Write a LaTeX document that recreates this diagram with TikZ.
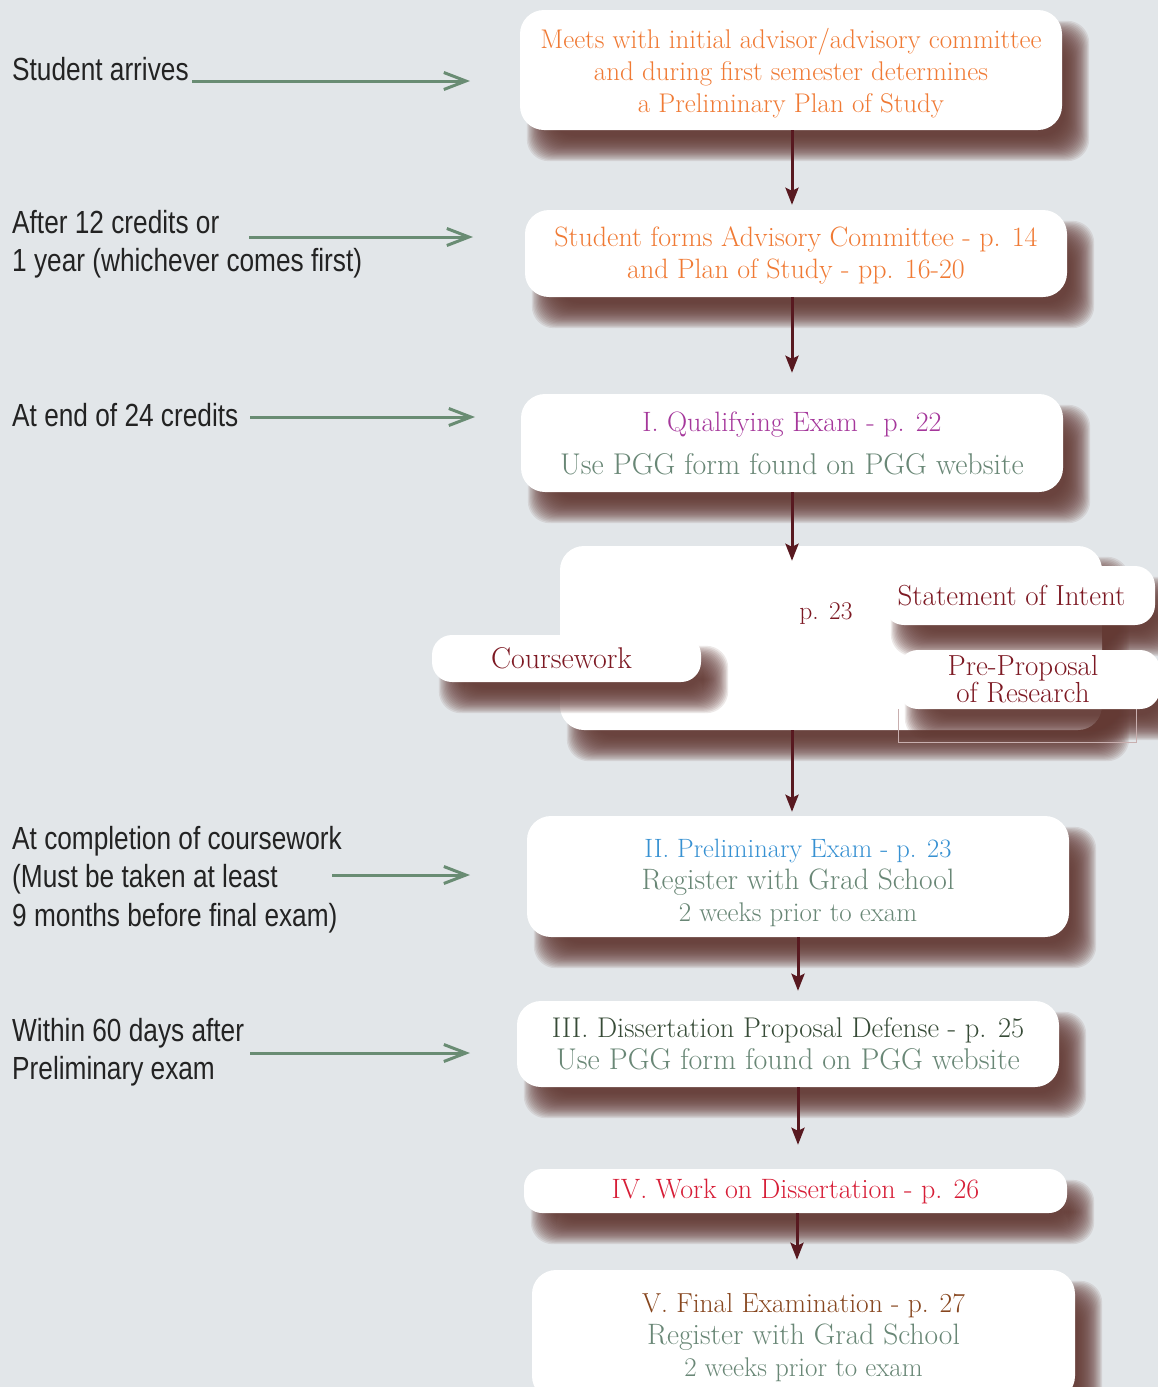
\documentclass[tikz,border=0pt]{standalone}
\usepackage{fontspec}
\newfontfamily\labfont[FakeStretch=0.82]{Liberation Sans}
\usetikzlibrary{arrows.meta,calc}
\pgfdeclarelayer{shA}\pgfdeclarelayer{bigl}\pgfdeclarelayer{shB}
\pgfsetlayers{shA,bigl,shB,main}
\definecolor{bgc}{RGB}{226,230,233}
\definecolor{shc}{RGB}{100,58,52}
\definecolor{orng}{RGB}{240,122,52}
\definecolor{purp}{RGB}{165,55,155}
\definecolor{sage}{RGB}{105,135,118}
\definecolor{blu}{RGB}{55,145,210}
\definecolor{dgrn}{RGB}{55,75,55}
\definecolor{crim}{RGB}{215,30,55}
\definecolor{brn}{RGB}{135,70,30}
\definecolor{drd}{RGB}{125,25,35}
\definecolor{mar}{RGB}{88,25,32}
\definecolor{grnarr}{RGB}{105,140,115}
\definecolor{txt}{RGB}{35,35,35}
\definecolor{faint}{RGB}{200,175,175}
\newcommand\castshadow[1]{%
  \foreach \k [evaluate=\k as \e using -10+1.2*\k] in {0,...,21}{%
    \fill[shc, opacity=0.11, rounded corners=22pt]
      ($(#1.north west)+(17+\e,21+\e)$) rectangle ($(#1.south east)+(17-\e,21-\e)$);
  }}
\tikzset{
  box/.style={fill=white, rounded corners=24pt, inner sep=0pt, align=center,
    font=\fontsize{27}{32}\selectfont},
  smallbox/.style={box, rounded corners=20pt, text=drd},
  flow/.style={draw=mar, line width=3pt, -{Stealth[length=17pt,width=13pt,inset=3pt]}},
  side/.style={draw=grnarr, line width=3pt, -{Straight Barb[length=22pt,width=17pt,line width=3pt]}},
  lab/.style={anchor=north west, inner sep=0pt, align=left, text=txt,
    font=\labfont\fontsize{32}{38.5}\selectfont},
}
\begin{document}
\begin{tikzpicture}[x=1pt,y=-1pt]
\begin{pgfonlayer}{shA}
\fill[bgc] (0,0) rectangle (1158,1387);
\end{pgfonlayer}
\useasboundingbox (0,0) rectangle (1158,1387);

% main column boxes
\node[box, text=orng, minimum width=542pt, minimum height=120pt] (b1) at (791,70)
  {\rule{0pt}{26pt}Meets with initial advisor/advisory committee\\ and during first semester determines\\ a Preliminary Plan of Study};
\node[box, text=orng, minimum width=542pt, minimum height=87pt, font=\fontsize{28}{32}\selectfont] (b2) at (796,253.5)
  {\rule{0pt}{23pt}Student forms Advisory Committee - p. 14\\ and Plan of Study - pp. 16-20};
\node[box, minimum width=542pt, minimum height=98pt, font=\fontsize{28}{43}\selectfont] (b3) at (792,443)
  {\textcolor{purp}{I.\ Qualifying Exam - p. 22}\\ {\color{sage}\fontsize{30}{43}\selectfont Use PGG form found on PGG website}};
\begin{pgfonlayer}{bigl}
\node[box, minimum width=542pt, minimum height=184pt] (big) at (831,638) {};
\end{pgfonlayer}
\node[text=drd, font=\fontsize{25.5}{30}\selectfont, inner sep=0pt] (p23) at (826,614) {p. 23};
\node[smallbox, minimum width=271pt, minimum height=59pt, font=\fontsize{29}{30}\selectfont] (stmt) at (1019.5,595.5) {\hspace*{-16pt}Statement of Intent};
\node[smallbox, minimum width=269pt, minimum height=47pt, font=\fontsize{30}{30}\selectfont] (course) at (566.5,658.5) {\hspace*{-10pt}Coursework};
\node[smallbox, minimum width=262pt, minimum height=59pt, font=\fontsize{29}{25}\selectfont] (prep) at (1029,679.5) {\hspace*{-12pt}Pre-Proposal\\ \hspace*{-12pt}of Research};
\node[box, minimum width=542pt, minimum height=121pt] (b4) at (798,876.5)
  {\rule{0pt}{32pt}{\color{blu}\fontsize{26.5}{32}\selectfont II.\ Preliminary Exam - p. 23}\\ {\color{sage}\fontsize{29.5}{32}\selectfont Register with Grad School}\\ {\color{sage}\fontsize{27}{32}\selectfont 2 weeks prior to exam}};
\node[box, minimum width=542pt, minimum height=86pt] (b5) at (788,1044)
  {{\color{dgrn}\fontsize{28.5}{32}\selectfont III.\ Dissertation Proposal Defense - p. 25}\\ {\color{sage}\fontsize{30}{32}\selectfont Use PGG form found on PGG website}};
\node[box, rounded corners=18pt, text=crim, minimum width=543pt, minimum height=44pt, font=\fontsize{28}{32}\selectfont] (b6) at (795.5,1191)
  {IV.\ Work on Dissertation - p. 26};
\node[box, minimum width=543pt, minimum height=130pt] (b7) at (803.5,1335)
  {\rule{0pt}{25pt}{\color{brn}\fontsize{27.5}{32}\selectfont V.\ Final Examination - p. 27}\\ {\color{sage}\fontsize{29.5}{32}\selectfont Register with Grad School}\\ {\color{sage}\fontsize{27}{32}\selectfont 2 weeks prior to exam}};

% shadows
\begin{pgfonlayer}{shA}
\castshadow{b1}\castshadow{b2}\castshadow{b3}\castshadow{big}
\castshadow{b4}\castshadow{b5}\castshadow{b6}\castshadow{b7}
\end{pgfonlayer}
\begin{pgfonlayer}{shB}
\castshadow{stmt}\castshadow{course}\castshadow{prep}
\draw[faint, line width=0.6pt] (898,709) -- (898,742) -- (1136,742) -- (1136,709);
\end{pgfonlayer}

% left labels
\node[lab] (l1) at (12,57) {Student arrives};
\node[lab] (l2) at (12,210) {After 12 credits or\\ 1 year (whichever comes first)};
\node[lab] (l3) at (12,403) {At end of 24 credits};
\node[lab] (l4) at (12,826) {At completion of coursework\\ (Must be taken at least\\ 9 months before final exam)};
\node[lab] (l5) at (12,1018) {Within 60 days after\\ Preliminary exam};

\coordinate (s1) at (192,81);  \coordinate (e1) at (470,81);
\coordinate (s2) at (249,237); \coordinate (e2) at (473,237);
\coordinate (s3) at (250,417); \coordinate (e3) at (475,417);
\coordinate (s4) at (332,875); \coordinate (e4) at (470,875);
\coordinate (s5) at (250,1053);\coordinate (e5) at (470,1053);
\foreach \i in {1,...,5} \draw[side] (s\i) -- (e\i);

% vertical flow arrows
\coordinate (xa) at (792,0);
\coordinate (xb) at (798,0);
\coordinate (xc) at (797,0);
\draw[flow, shorten >=5pt] (b1.south -| xa) -- (b2.north -| xa);
\draw[flow, shorten >=21pt] (b2.south -| xa) -- (b3.north -| xa);
\draw[flow, shorten >=-15pt] (b3.south -| xa) -- (big.north -| xa);
\draw[flow, shorten >=4pt] (big.south -| xa) -- (b4.north -| xa);
\draw[flow, shorten >=10pt] (b4.south -| xb) -- (b5.north -| xb);
\draw[flow, shorten >=24pt] (b5.south -| xb) -- (b6.north -| xb);
\draw[flow, shorten >=10pt] (b6.south -| xc) -- (b7.north -| xc);
\end{tikzpicture}
\end{document}
